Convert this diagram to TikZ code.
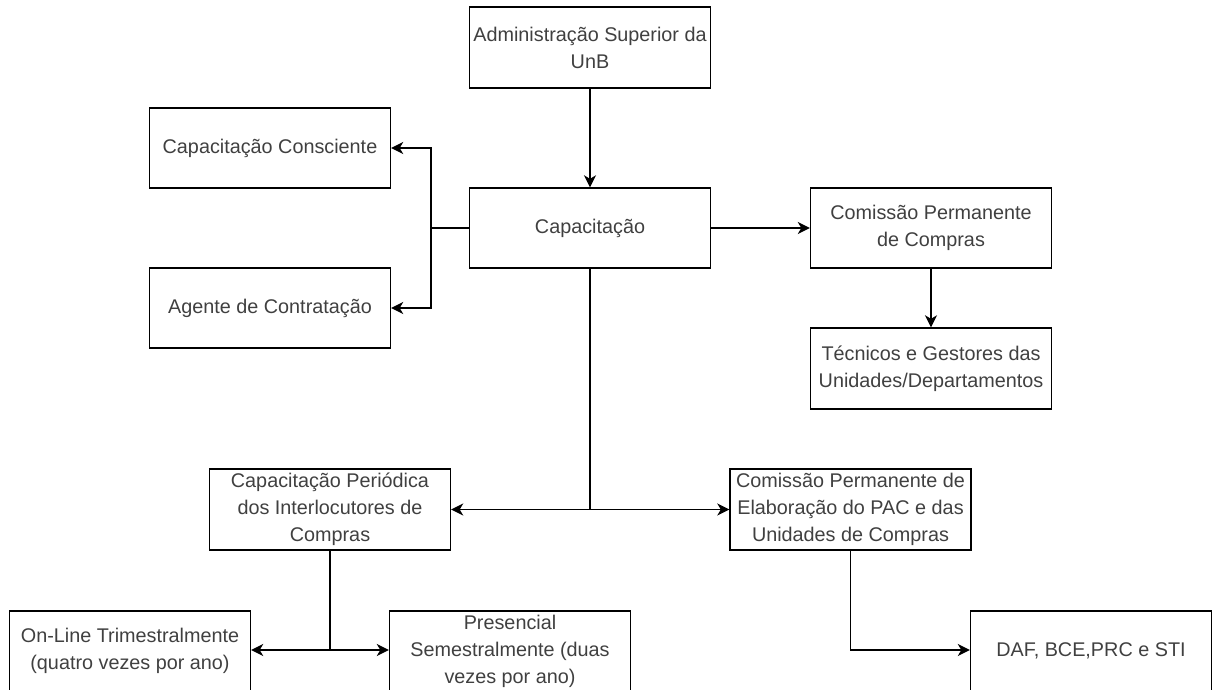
\documentclass[tikz,border=0pt]{standalone}
\usepackage{fontspec}
\setmainfont{Liberation Sans}
\usetikzlibrary{arrows.meta}
\tikzset{
  box/.style={draw=black, line width=1.4pt, minimum width=241pt, minimum height=80pt,
    inner sep=0pt, align=center, text=black!75,
    font=\fontsize{19.8}{27}\selectfont},
  conn/.style={line width=1.6pt, draw=black},
  arr/.style={conn, -{Stealth[length=12pt,width=12pt,inset=3.5pt]}}
}
\begin{document}
\begin{tikzpicture}[x=1pt,y=-1pt]
\useasboundingbox (0,0) rectangle (1217,689);
\node[box, minimum height=81pt] (admin) at (590,47.5) {Administração Superior da\\UnB};
\node[box] (cap) at (590,228) {Capacitação};
\node[box] (cc) at (270,148) {Capacitação Consciente};
\node[box] (ag) at (270,308) {Agente de Contratação};
\node[box] (cpc) at (931,228) {Comissão Permanente\\de Compras};
\node[box, minimum height=81pt] (tec) at (931,368.5) {Técnicos e Gestores das\\Unidades/Departamentos};
\node[box, minimum height=81pt] (cpi) at (330,509.5) {Capacitação Periódica\\dos Interlocutores de\\Compras};
\node[box, minimum height=81pt] (cpac) at (850.5,509.5) {Comissão Permanente de\\Elaboração do PAC e das\\Unidades de Compras};
\node[box] (online) at (130,651) {On-Line Trimestralmente\\(quatro vezes por ano)};
\node[box] (pres) at (510,651) {Presencial\\Semestralmente (duas\\vezes por ano)};
\node[box] (daf) at (1091,651) {DAF, BCE,PRC e STI};

\coordinate (j1) at (431,228);
\coordinate (j2) at (590,509.5);
\coordinate (j3) at (330,650);

\draw[arr] (admin.south) -- (cap.north);
\draw[conn] (cap.west) -- (j1);
\draw[arr] (j1) |- (cc.east);
\draw[arr] (j1) |- (ag.east);
\draw[arr] (cap.east) -- (cpc.west);
\draw[arr] (cpc.south) -- (tec.north);
\draw[conn] (cap.south) -- (j2);
\draw[arr] (j2) -- (cpi.east);
\draw[arr] (j2) -- (cpac.west);
\draw[conn] (cpi.south) -- (j3);
\draw[arr] (j3) -- (online.east |- j3);
\draw[arr] (j3) -- (pres.west |- j3);
\draw[arr] (cpac.south) |- (daf.west |- j3);
\end{tikzpicture}
\end{document}
